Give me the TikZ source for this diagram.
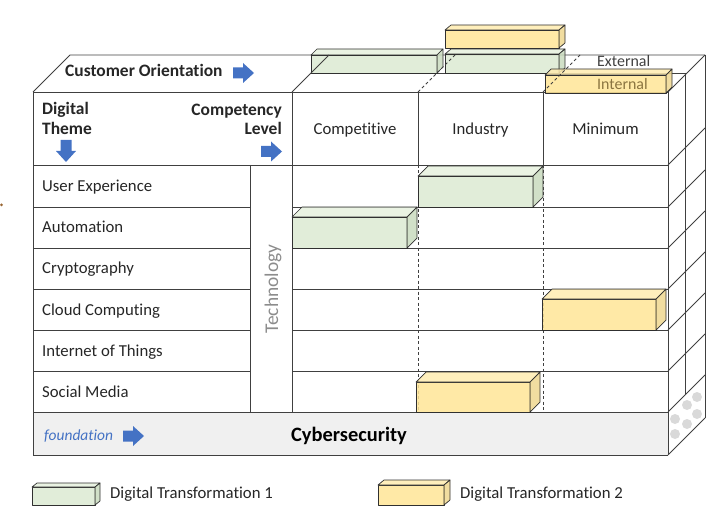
\documentclass[tikz,border=0pt]{standalone}
\usepackage{fontspec}
\setmainfont{Carlito}[Ligatures=NoCommon]
\definecolor{linegray}{HTML}{404040}
\definecolor{boxline}{HTML}{303030}
\definecolor{gfront}{HTML}{DCEAD2}
\definecolor{gtop}{HTML}{E6F1DE}
\definecolor{gside}{HTML}{C9DABE}
\definecolor{yfront}{HTML}{FFE597}
\definecolor{ytop}{HTML}{FFECB0}
\definecolor{yside}{HTML}{EFD78F}
\definecolor{arrowblue}{HTML}{4472C4}
\definecolor{txt}{HTML}{262626}
\definecolor{fgray}{HTML}{F0F0F0}
\definecolor{techgray}{HTML}{8C8C8C}
\definecolor{intbrown}{HTML}{8A7440}
\definecolor{dotgray}{HTML}{D9D9D9}
\newcommand{\mycuboid}[9]{%
  \filldraw[fill=#7, draw=boxline, line width=0.9bp, fill opacity=0.85] (#1,#2) rectangle (#3,#4);
  \filldraw[fill=#8, draw=boxline, line width=0.7bp, fill opacity=0.85] (#1,#2) -- ++(#5,#6) -- ++({#3-#1},0) -- (#3,#2) -- cycle;
  \filldraw[fill=#9, draw=boxline, line width=0.7bp, fill opacity=0.85] (#3,#2) -- ++(#5,#6) -- ++(0,{#4-#2}) -- (#3,#4) -- cycle;
}
\begin{document}
\begin{tikzpicture}[x=1bp,y=-1bp,line join=round,
  grid/.style={draw=linegray, line width=0.9bp},
  dashgrid/.style={draw=linegray, line width=0.9bp, dash pattern=on 3bp off 2.5bp},
  lab/.style={text=txt, font=\fontsize{16.8}{19}\selectfont, inner sep=0pt},
  boldlab/.style={text=txt, font=\fontsize{17.5}{19}\selectfont\bfseries, inner sep=0pt},
  rblock/.pic={\fill[arrowblue] (0,-5.5) -- (10,-5.5) -- (10,-10) -- (21,0) -- (10,10) -- (10,5.5) -- (0,5.5) -- cycle;}]
\useasboundingbox (0,0) rectangle (720,515);

% stray mark at left edge
\fill[brown!80!black] (1.5,205) circle (1.5);

% foundation band
\fill[fgray] (33,412) rectangle (668,455);

% front grid
\draw[grid] (33,92) -- (668,92);
\draw[grid] (33,165) -- (668,165);
\foreach \yy in {207,248,289,330,371} {
  \draw[grid] (33,\yy) -- (250,\yy);
  \draw[grid] (292,\yy) -- (668,\yy);
}
\draw[grid] (33,412) -- (668,412);
\draw[grid] (33,455) -- (668,455);
\draw[grid] (33,92) -- (33,455);
\draw[grid] (250,165) -- (250,412);
\draw[grid] (292,92) -- (292,412);
\draw[grid] (418,92) -- (418,165);
\draw[grid] (543,92) -- (543,165);
\draw[dashgrid] (418,165) -- (418,412);
\draw[dashgrid] (543,165) -- (543,412);
\draw[grid] (668,92) -- (668,455);

% right face
\draw[grid] (685,73) -- (685,395);
\draw[grid] (705,55) -- (705,418);
\foreach \yy in {92,165,207,248,289,330,371,412,455} {
  \draw[grid] (668,\yy) -- ++(37,-37);
}
\foreach \px/\py in {697/397,687/405,697/414,675/419,687/424,675/434} {
  \fill[dotgray] (\px,\py) circle (5);
}

% top face outline
\draw[grid] (33,92) -- (70,55) -- (705,55);
\draw[grid] (310,73) -- (685,73);

% boxes on the top face
\mycuboid{311}{55}{437}{73}{6}{-6}{gfront}{gtop}{gside}
\mycuboid{445}{54}{559}{73}{6}{-5}{gfront}{gtop}{gside}
\mycuboid{445}{30}{559}{48}{6}{-5}{yfront}{ytop}{yside}
\mycuboid{545}{75}{666}{93}{6}{-6}{yfront}{ytop}{yside}

% top face dividers drawn over the boxes
\draw[grid] (292,92) -- (329,55);
\draw[dashgrid] (418,92) -- (455,55);
\draw[dashgrid] (543,92) -- (580,55);

% boxes in the grid
\mycuboid{418}{176}{533}{207}{10}{-10}{gfront}{gtop}{gside}
\mycuboid{292}{217}{407}{248}{10}{-10}{gfront}{gtop}{gside}
\mycuboid{542}{299}{656}{330}{10}{-10}{yfront}{ytop}{yside}
\mycuboid{416}{382}{530}{412}{10}{-10}{yfront}{ytop}{yside}

% texts on top
\node[boldlab, anchor=base west] (custor) at (65,77) {Customer Orientation};
\pic at (233,73) {rblock};
\node[lab, text=linegray, font=\fontsize{16}{18}\selectfont, anchor=base west] (ext) at (597,67) {External};
\node[lab, text=intbrown, font=\fontsize{16}{18}\selectfont, anchor=base west] (int) at (597,90) {Internal};

% header
\node[boldlab, anchor=base west] (dig) at (42,115) {Digital};
\node[boldlab, anchor=base west] (theme) at (42,135) {Theme};
\fill[arrowblue] (60.5,140) -- (71.5,140) -- (71.5,151) -- (76,151) -- (66,162) -- (56,151) -- (60.5,151) -- cycle;
\node[boldlab, anchor=base east] (comp) at (282,116) {Competency};
\node[boldlab, anchor=base east] (lev) at (282,135) {Level};
\pic at (261,151.5) {rblock};
\node[lab, anchor=base] (hcomp) at (355,134.5) {Competitive};
\node[lab, anchor=base] (hind) at (480.5,134.5) {Industry};
\node[lab, anchor=base] (hmin) at (605.5,134.5) {Minimum};

% row labels
\node[lab, anchor=base west] (r1) at (42,191.5) {User Experience};
\node[lab, anchor=base west] (r2) at (42,233) {Automation};
\node[lab, anchor=base west] (r3) at (42,274) {Cryptography};
\node[lab, anchor=base west] (r4) at (42,315) {Cloud Computing};
\node[lab, anchor=base west] (r5) at (42,356) {Internet of Things};
\node[lab, anchor=base west] (r6) at (42,397) {Social Media};
\node[lab, text=techgray, font=\fontsize{19.5}{22}\selectfont, rotate=90, anchor=base] (tech) at (278,289) {Technology};

% foundation
\node[lab, text=arrowblue, font=\fontsize{15.5}{18}\selectfont\itshape, anchor=base west] (found) at (44,440) {foundation};
\pic at (123,436) {rblock};
\node[text=black, font=\fontsize{20.5}{23}\selectfont\bfseries, inner sep=0pt, anchor=base] (cyber) at (349,441) {Cybersecurity};

% legend
\mycuboid{32}{487}{95}{505}{5}{-4}{gfront}{gtop}{gside}
\node[lab, anchor=base west] (leg1) at (110,498) {Digital Transformation 1};
\mycuboid{378}{485}{444}{505}{6}{-5}{yfront}{ytop}{yside}
\node[lab, anchor=base west] (leg2) at (460,498) {Digital Transformation 2};
\end{tikzpicture}
\end{document}
